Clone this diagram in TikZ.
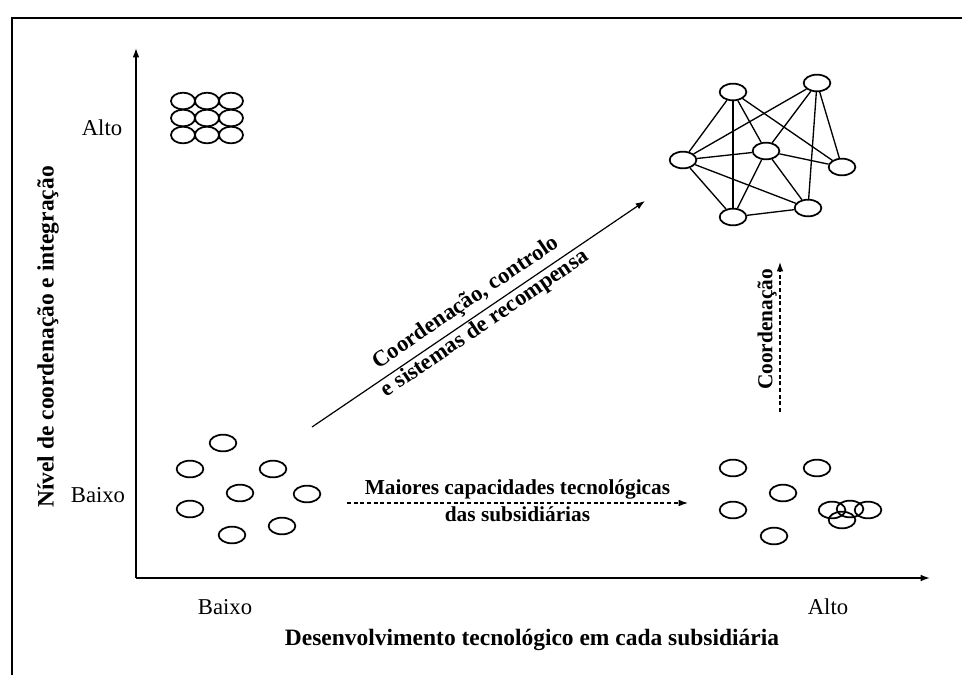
\documentclass[tikz,border=0pt]{standalone}
\usepackage{fontspec}
\setmainfont{Liberation Serif}
\usetikzlibrary{arrows.meta,shapes.geometric}
\begin{document}
\begin{tikzpicture}[x=0.75pt,y=-0.75pt,
  frameline/.style={line width=1.5pt},
  axis/.style={line width=1.1pt,-{Latex[length=7pt,width=5pt]}},
  ellA/.style={draw,ellipse,line width=1.3pt,minimum width=18pt,minimum height=12.5pt,inner sep=0pt},
  ellB/.style={draw,ellipse,line width=1.3pt,minimum width=20pt,minimum height=12.5pt,inner sep=0pt},
  net/.style={line width=1pt},
  lbl/.style={font=\fontsize{17}{19}\selectfont,inner sep=1pt},
  ttl/.style={font=\fontsize{17.6}{20}\selectfont\bfseries,inner sep=1pt},
  dtxt/.style={font=\fontsize{17}{19}\selectfont\bfseries,inner sep=0pt},
  htxt/.style={font=\fontsize{16}{18}\selectfont\bfseries,inner sep=0pt},
  vtxt/.style={font=\fontsize{16}{18}\selectfont\bfseries,inner sep=0pt},
  flow/.style={line width=0.9pt,-{Latex[length=7pt,width=5pt]}},
  dflow/.style={line width=0.9pt,dash pattern=on 3pt off 2pt,-{Latex[length=7pt,width=5pt]}}
]
\useasboundingbox (0,0) rectangle (962,675);
% frame
\coordinate (f1) at (12,675);
\coordinate (f2) at (12,18);
\coordinate (f3) at (962,18);
\draw[frameline] (f1) -- (f2) -- (f3);
% axes
\coordinate (o) at (136,578);
\coordinate (ytop) at (136,48);
\coordinate (xend) at (930,578);
\draw[axis] (o) -- (ytop);
\draw[axis] (o) -- (xend);
% axis labels
\node[lbl] (yalto) at (102,128) {Alto};
\node[lbl] (ybaixo) at (98,495) {Baixo};
\node[lbl] (xbaixo) at (225,607) {Baixo};
\node[lbl] (xalto) at (828,607) {Alto};
\node[ttl] (xtitle) at (532,640) {Desenvolvimento tecnológico em cada subsidiária};
\node[ttl,rotate=90] (ytitle) at (48,337) {Nível de coordenação e integração};
% top-left grid
\foreach \i/\x in {1/183,2/207,3/231}{
  \foreach \j/\y in {1/101,2/118,3/135}{
    \node[ellA] (g\i\j) at (\x,\y) {};
  }
}
% network
\node[ellB] (nA) at (733,92) {};
\node[ellB] (nB) at (817,83) {};
\node[ellB] (nC) at (683,160) {};
\node[ellB] (nD) at (766,151) {};
\node[ellB] (nE) at (842,167) {};
\node[ellB] (nF) at (733,217) {};
\node[ellB] (nG) at (808,208) {};
\foreach \a/\b in {nA/nC,nA/nF,nA/nD,nA/nE,nB/nC,nB/nD,nB/nG,nB/nE,nC/nD,nC/nF,nC/nG,nD/nF,nD/nG,nD/nE,nF/nG}{
  \draw[net] (\a) -- (\b);
}
% bottom-left scattered
\node[ellB] (l1) at (223,443) {};
\node[ellB] (l2) at (190,469) {};
\node[ellB] (l3) at (273,469) {};
\node[ellB] (l4) at (240,493) {};
\node[ellB] (l5) at (307,494) {};
\node[ellB] (l6) at (190,509) {};
\node[ellB] (l7) at (232,535) {};
\node[ellB] (l8) at (282,526) {};
% bottom-right scattered
\node[ellB] (r1) at (733,468) {};
\node[ellB] (r2) at (817,468) {};
\node[ellB] (r3) at (783,493) {};
\node[ellB] (r4) at (733,510) {};
\node[ellB] (r5) at (774,536) {};
\node[ellB] (r6) at (832,510) {};
\node[ellB] (r7) at (850,509) {};
\node[ellB] (r8) at (868,510) {};
\node[ellB] (r9) at (842,520) {};
% diagonal arrow
\coordinate (d1) at (312,427);
\coordinate (d2) at (645,201);
\draw[flow] (d1) -- node[dtxt,sloped,pos=0.49,above=4pt] (dlab1) {Coordenação, controlo}
                    node[dtxt,sloped,pos=0.5,below=1pt] (dlab2) {e sistemas de recompensa} (d2);
% vertical dashed arrow
\coordinate (v1) at (780,412);
\coordinate (v2) at (780,262);
\draw[dflow] (v1) -- node[vtxt,sloped,pos=0.55,above=2pt] (vlab) {Coordenação} (v2);
% horizontal dashed arrow
\coordinate (h1) at (347,503);
\coordinate (h2) at (688,503);
\draw[dflow] (h1) -- node[htxt,pos=0.5,above=2.5pt] (hlab1) {Maiores capacidades tecnológicas}
                    node[htxt,pos=0.5,below=2pt] (hlab2) {das subsidiárias} (h2);
\end{tikzpicture}
\end{document}
